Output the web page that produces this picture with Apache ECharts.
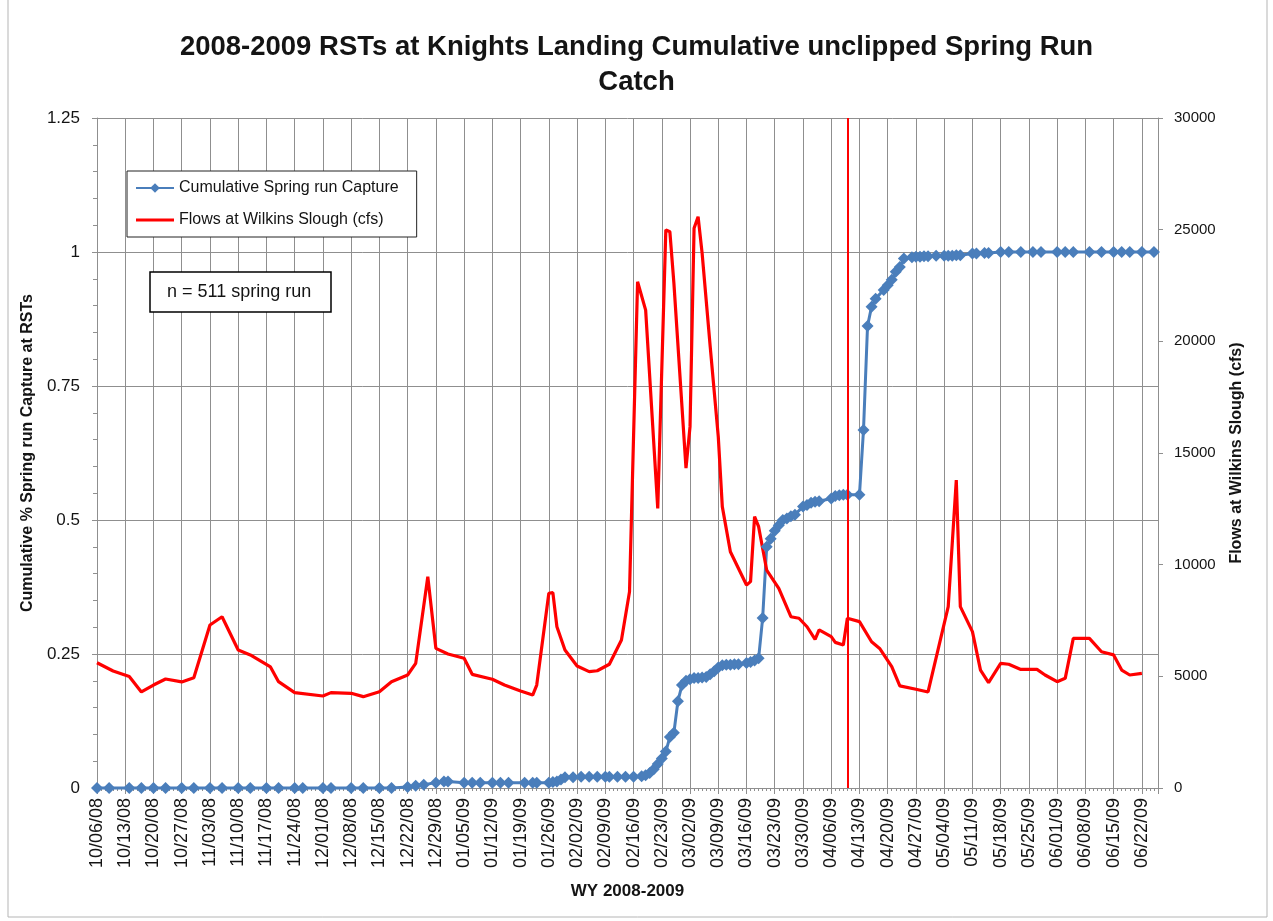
<!DOCTYPE html>
<html>
<head>
<meta charset="utf-8">
<script src="https://cdn.jsdelivr.net/npm/echarts@6/dist/echarts.min.js"></script>
<style>
  html, body { margin: 0; padding: 0; background: #fff; }
  #chart { width: 1273px; height: 921px; }
</style>
</head>
<body>
<div id="chart"></div>
<script>
// cumulative spring run capture (fraction of 511 fish)
const captureDates = [
  '10/06/08', '10/09/08', '10/14/08', '10/17/08', '10/20/08', '10/23/08', '10/27/08', '10/30/08',
  '11/03/08', '11/06/08', '11/10/08', '11/13/08', '11/17/08', '11/20/08', '11/24/08', '11/26/08',
  '12/01/08', '12/03/08', '12/08/08', '12/11/08', '12/15/08', '12/18/08', '12/22/08', '12/24/08',
  '12/26/08', '12/29/08', '12/31/08', '01/01/09', '01/05/09', '01/07/09', '01/09/09', '01/12/09',
  '01/14/09', '01/16/09', '01/20/09', '01/22/09', '01/23/09', '01/26/09', '01/27/09', '01/28/09',
  '01/29/09', '01/30/09', '02/01/09', '02/03/09', '02/05/09', '02/07/09', '02/09/09', '02/10/09',
  '02/12/09', '02/14/09', '02/16/09', '02/18/09', '02/19/09', '02/20/09', '02/21/09', '02/22/09',
  '02/23/09', '02/24/09', '02/25/09', '02/26/09', '02/27/09', '02/28/09', '03/01/09', '03/02/09',
  '03/03/09', '03/04/09', '03/05/09', '03/06/09', '03/07/09', '03/08/09', '03/09/09', '03/10/09',
  '03/11/09', '03/12/09', '03/13/09', '03/14/09', '03/16/09', '03/17/09', '03/18/09', '03/19/09',
  '03/20/09', '03/21/09', '03/22/09', '03/23/09', '03/24/09', '03/25/09', '03/26/09', '03/27/09',
  '03/28/09', '03/30/09', '03/31/09', '04/01/09', '04/02/09', '04/03/09', '04/06/09', '04/07/09',
  '04/08/09', '04/09/09', '04/10/09', '04/13/09', '04/14/09', '04/15/09', '04/16/09', '04/17/09',
  '04/19/09', '04/20/09', '04/21/09', '04/22/09', '04/23/09', '04/24/09', '04/26/09', '04/27/09',
  '04/28/09', '04/29/09', '04/30/09', '05/02/09', '05/04/09', '05/05/09', '05/06/09', '05/07/09',
  '05/08/09', '05/11/09', '05/12/09', '05/14/09', '05/15/09', '05/18/09', '05/20/09', '05/23/09',
  '05/26/09', '05/28/09', '06/01/09', '06/03/09', '06/05/09', '06/09/09', '06/12/09', '06/15/09',
  '06/17/09', '06/19/09', '06/22/09', '06/25/09'
]
const captureValues = [
  0, 0, 0, 0, 0, 0, 0, 0,
  0, 0, 0, 0, 0, 0, 0, 0,
  0, 0, 0, 0, 0, 0, 0.002, 0.004,
  0.006, 0.01, 0.012, 0.012, 0.01, 0.01, 0.01, 0.01,
  0.01, 0.01, 0.01, 0.01, 0.01, 0.01, 0.011, 0.012,
  0.016, 0.02, 0.02, 0.021, 0.021, 0.021, 0.021, 0.021,
  0.021, 0.021, 0.021, 0.022, 0.024, 0.028, 0.035, 0.045,
  0.055, 0.068, 0.095, 0.103, 0.162, 0.192, 0.2, 0.203,
  0.205, 0.205, 0.206, 0.207, 0.212, 0.218, 0.225, 0.229,
  0.23, 0.23, 0.231, 0.231, 0.233, 0.235, 0.238, 0.242,
  0.317, 0.45, 0.465, 0.48, 0.49, 0.5, 0.503, 0.507,
  0.51, 0.525, 0.528, 0.532, 0.534, 0.535, 0.54, 0.545,
  0.546, 0.547, 0.547, 0.547, 0.668, 0.862, 0.898, 0.913,
  0.929, 0.938, 0.948, 0.963, 0.972, 0.988, 0.99, 0.991,
  0.991, 0.992, 0.992, 0.993, 0.993, 0.993, 0.993, 0.994,
  0.994, 0.997, 0.997, 0.998, 0.998, 1, 1, 1,
  1, 1, 1, 1, 1, 1, 1, 1,
  1, 1, 1, 1
]

// flows at Wilkins Slough (cfs)
const flowDates = [
  '10/06/08', '10/10/08', '10/14/08', '10/17/08', '10/20/08', '10/23/08', '10/27/08', '10/30/08',
  '11/03/08', '11/06/08', '11/10/08', '11/13/08', '11/18/08', '11/20/08', '11/24/08', '12/01/08',
  '12/03/08', '12/08/08', '12/11/08', '12/15/08', '12/18/08', '12/22/08', '12/24/08', '12/27/08',
  '12/29/08', '01/01/09', '01/05/09', '01/07/09', '01/12/09', '01/15/09', '01/19/09', '01/22/09',
  '01/23/09', '01/26/09', '01/27/09', '01/28/09', '01/30/09', '02/02/09', '02/05/09', '02/07/09',
  '02/10/09', '02/13/09', '02/15/09', '02/17/09', '02/19/09', '02/22/09', '02/24/09', '02/25/09',
  '02/26/09', '03/01/09', '03/02/09', '03/03/09', '03/04/09', '03/05/09', '03/07/09', '03/09/09',
  '03/10/09', '03/12/09', '03/16/09', '03/17/09', '03/18/09', '03/19/09', '03/21/09', '03/24/09',
  '03/27/09', '03/29/09', '03/31/09', '04/02/09', '04/03/09', '04/06/09', '04/07/09', '04/09/09',
  '04/10/09', '04/13/09', '04/16/09', '04/18/09', '04/21/09', '04/23/09', '04/27/09', '04/30/09',
  '05/05/09', '05/07/09', '05/08/09', '05/11/09', '05/13/09', '05/15/09', '05/18/09', '05/20/09',
  '05/23/09', '05/27/09', '05/29/09', '06/01/09', '06/03/09', '06/05/09', '06/09/09', '06/12/09',
  '06/15/09', '06/17/09', '06/19/09', '06/22/09'
]
const flowValues = [
  5610, 5240, 4990, 4300, 4610, 4880, 4750, 4940,
  7300, 7670, 6180, 5960, 5420, 4760, 4270, 4120,
  4270, 4240, 4090, 4310, 4760, 5060, 5580, 9460,
  6250, 6000, 5810, 5090, 4870, 4610, 4340, 4160,
  4610, 8720, 8750, 7220, 6180, 5460, 5210, 5250,
  5540, 6630, 8790, 22670, 21400, 12520, 24990, 24910,
  22610, 14320, 16180, 25060, 25580, 23940, 19760, 15730,
  12600, 10580, 9090, 9240, 12150, 11700, 9760, 8940,
  7670, 7600, 7220, 6660, 7080, 6780, 6520, 6400,
  7600, 7450, 6550, 6250, 5430, 4570, 4420, 4300,
  8120, 13790, 8120, 7000, 5280, 4720, 5580, 5540,
  5310, 5310, 5060, 4760, 4910, 6700, 6700, 6100,
  5960, 5280, 5060, 5130
]

const AXIS_START = '10/06/08'
const AXIS_END = '06/26/09'
const MARKER_DATE = '04/10/09'

const DAY = 86400000
const parseDate = s => {
  const [m, d, y] = s.split('/').map(Number)
  return Date.UTC(2000 + y, m - 1, d)
}
const start = parseDate(AXIS_START)
const dayOf = s => Math.round((parseDate(s) - start) / DAY)
const labelOf = n => {
  const t = new Date(start + n * DAY)
  const mm = String(t.getUTCMonth() + 1).padStart(2, '0')
  const dd = String(t.getUTCDate()).padStart(2, '0')
  const yy = String(t.getUTCFullYear() % 100).padStart(2, '0')
  return `${mm}/${dd}/${yy}`
}

const captureData = captureDates.map((d, i) => [dayOf(d), captureValues[i]])
const flowData = flowDates.map((d, i) => [dayOf(d), flowValues[i]])

const FONT = 'Liberation Sans'
const GRID_COLOR = '#8f8f8f'
const TEXT_COLOR = '#141414'
const BLUE = '#4a7ebb'
const RED = '#ff0000'

const chart = echarts.init(document.getElementById('chart'))

chart.setOption({
  animation: false,
  backgroundColor: '#fff',
  textStyle: { fontFamily: FONT, color: TEXT_COLOR },
  title: [
    {
      text: '2008-2009 RSTs at Knights Landing Cumulative unclipped Spring Run\nCatch',
      left: 'center',
      top: 25,
      textStyle: { fontFamily: FONT, fontSize: 27.5, fontWeight: 'bold', color: TEXT_COLOR, lineHeight: 35 }
    },
    {
      text: 'n = 511 spring run',
      left: 150,
      top: 272,
      padding: [11, 20, 11, 17],
      borderColor: '#000',
      borderWidth: 1.5,
      backgroundColor: '#fff',
      textStyle: { fontFamily: FONT, fontSize: 18, fontWeight: 'normal', color: TEXT_COLOR }
    }
  ],
  legend: {
    orient: 'vertical',
    left: 127,
    top: 171,
    padding: [9, 18, 9, 8],
    itemGap: 16,
    itemWidth: 38,
    itemHeight: 12,
    backgroundColor: '#fff',
    borderColor: '#222',
    borderWidth: 1,
    textStyle: { fontFamily: FONT, fontSize: 16, color: TEXT_COLOR },
    data: [
      { name: 'Cumulative Spring run Capture' },
      { name: 'Flows at Wilkins Slough (cfs)', icon: 'path://M0,0 H38 V3 H0 Z', itemStyle: { color: RED } }
    ]
  },
  grid: { left: 97, right: 115, top: 118, bottom: 133 },
  xAxis: {
    type: 'value',
    min: 0,
    max: dayOf(AXIS_END),
    interval: 7,
    name: 'WY 2008-2009',
    nameLocation: 'middle',
    nameGap: 95,
    nameTextStyle: { fontFamily: FONT, fontSize: 17, fontWeight: 'bold', color: TEXT_COLOR },
    axisLine: { show: true, onZero: false, lineStyle: { color: GRID_COLOR } },
    axisTick: { show: true, length: 6, lineStyle: { color: GRID_COLOR } },
    minorTick: { show: true, splitNumber: 7, length: 3, lineStyle: { color: GRID_COLOR } },
    splitLine: { show: true, lineStyle: { color: GRID_COLOR, width: 1 } },
    axisLabel: {
      rotate: 90,
      margin: 10,
      fontSize: 18,
      color: TEXT_COLOR,
      showMaxLabel: false,
      formatter: v => (v % 7 === 0 ? labelOf(v) : '')
    }
  },
  yAxis: [
    {
      type: 'value',
      min: 0,
      max: 1.25,
      interval: 0.25,
      name: 'Cumulative % Spring run Capture at RSTs',
      nameLocation: 'middle',
      nameGap: 59,
      nameRotate: 90,
      nameTextStyle: { fontFamily: FONT, fontSize: 16, fontWeight: 'bold', color: TEXT_COLOR },
      axisLine: { show: true, lineStyle: { color: GRID_COLOR } },
      axisTick: { show: true, length: 5, lineStyle: { color: GRID_COLOR } },
      minorTick: { show: true, splitNumber: 5, length: 4, lineStyle: { color: GRID_COLOR } },
      splitLine: { show: true, lineStyle: { color: GRID_COLOR, width: 1 } },
      axisLabel: { fontSize: 17, margin: 17, color: TEXT_COLOR }
    },
    {
      type: 'value',
      min: 0,
      max: 30000,
      interval: 5000,
      name: 'Flows at Wilkins Slough (cfs)',
      nameLocation: 'middle',
      nameGap: 71,
      nameRotate: 90,
      nameTextStyle: { fontFamily: FONT, fontSize: 16, fontWeight: 'bold', color: TEXT_COLOR },
      axisLine: { show: true, lineStyle: { color: GRID_COLOR } },
      axisTick: { show: true, length: 5, lineStyle: { color: GRID_COLOR } },
      splitLine: { show: false },
      axisLabel: { fontSize: 15, margin: 16, color: TEXT_COLOR, formatter: v => String(v) }
    }
  ],
  series: [
    {
      name: 'Cumulative Spring run Capture',
      type: 'line',
      yAxisIndex: 0,
      data: captureData,
      symbol: 'diamond',
      symbolSize: 12,
      showAllSymbol: true,
      clip: false,
      lineStyle: { color: BLUE, width: 3 },
      itemStyle: { color: BLUE }
    },
    {
      name: 'Flows at Wilkins Slough (cfs)',
      type: 'line',
      yAxisIndex: 1,
      data: flowData,
      showSymbol: false,
      lineStyle: { color: RED, width: 3.2 },
      itemStyle: { color: RED },
      markLine: {
        silent: true,
        symbol: ['none', 'none'],
        label: { show: false },
        lineStyle: { color: RED, width: 2, type: 'solid' },
        data: [{ xAxis: dayOf(MARKER_DATE) }]
      }
    }
  ],
  graphic: [
    {
      type: 'rect',
      silent: true,
      shape: { x: 8, y: -2, width: 1259, height: 919 },
      style: { fill: 'none', stroke: '#b5b5b5', lineWidth: 1 }
    }
  ]
})
</script>
</body>
</html>
